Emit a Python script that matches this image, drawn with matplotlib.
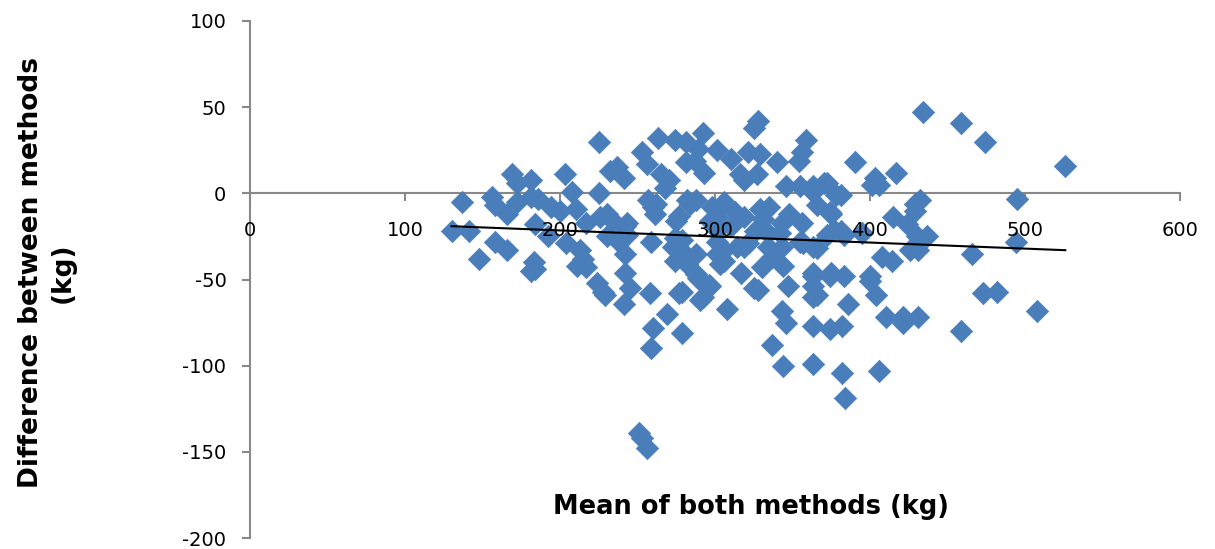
import numpy as np
import matplotlib.pyplot as plt

plt.rcParams['axes.unicode_minus'] = False

# mean of both methods (kg), difference between methods (kg)
mean_kg = [130, 137, 141, 148, 156, 158, 158, 166, 166, 169, 172, 172, 181, 181, 186, 184, 183, 184, 181,
           192, 194, 200, 203, 208, 210, 204, 213, 215, 211, 217, 217, 225, 226, 230, 234, 243, 230, 237,
           242, 242, 224, 228, 229, 245, 241, 260,
           225, 232, 237, 241, 253, 256, 263, 274, 281, 292, 289, 301, 310, 281, 287, 293, 265, 270, 268,
           325, 328, 321, 316, 319, 327, 329, 340, 354, 356, 359, 390, 417, 403, 406, 401, 434, 459, 474, 526,
           257, 260, 261, 282, 288, 277, 275, 298, 306, 313, 297, 301, 279, 273, 259, 243, 242, 314, 321, 326,
           274, 282, 288, 301, 306, 288, 317,
           258, 277, 290, 297, 290, 308, 269, 279, 259, 251, 253, 256, 325,
           346, 355, 363, 370, 378, 366, 374, 377, 383, 348, 356, 343, 335, 329, 331, 319, 310, 301, 284, 262,
           274, 281, 301, 306, 303, 319, 334, 343, 355, 366, 337, 344, 330, 289, 296, 292, 279, 328, 347,
           363, 363, 363, 374, 383, 386, 343, 346, 363, 374, 382, 337,
           372, 381, 363, 415, 424, 429, 430, 408, 414, 372, 381, 375, 334, 342, 357, 363, 363, 375, 400,
           432, 429, 437, 426, 431, 400, 404, 410, 421, 421, 431, 466, 473, 482, 459, 508, 495, 494, 395,
           366, 344, 363, 382, 406, 384]
diff_kg = [-22, -5, -22, -38, -2, -7, -28, -12, -33, 11, 6, -5, 8, -2, -3, -18, -40, -44, -45,
           -25, -8, -10, 11, 1, -9, -29, -33, -38, -42, -43, -17, 0, -14, -12, -16, -17, -25, -27,
           -35, -46, -52, -57, -59, -55, -64, -78,
           30, 13, 15, 9, 24, 17, 32, 31, 30, 35, 26, 25, 20, 18, 19, 12, 11, 8, 3,
           38, 42, 24, 11, 8, 11, 23, 18, 19, 24, 31, 18, 12, 9, 5, 5, 47, 41, 30, 16,
           -4, -8, -12, -4, -4, -13, -16, -8, -5, -11, -16, -21, -27, -31, -28, -24, -19, -31, -29, -22,
           -39, -41, -35, -35, -39, -47, -46,
           -58, -58, -50, -54, -62, -67, -70, -81, -90, -139, -142, -148, -55,
           4, 4, 4, 6, -1, -7, -11, -21, -24, -12, -17, -17, -8, -9, -15, -14, -19, -14, -6, -6,
           -26, -36, -28, -33, -41, -31, -31, -31, -28, -32, -37, -42, -43, -49, -53, -60, -57, -56, -54,
           -48, -54, -60, -48, -48, -64, -68, -75, -77, -79, -77, -88,
           6, -1, 1, -14, -18, -6, -25, -37, -39, -24, -22, -12, -23, -23, -29, -31, -46, -46, -48,
           -4, -10, -25, -33, -33, -51, -59, -72, -72, -75, -72, -35, -58, -57, -80, -68, -3, -28, -23,
           -59, -100, -99, -104, -103, -119]

x_ticks = [0, 100, 200, 300, 400, 500, 600]
y_ticks = [-200, -150, -100, -50, 0, 50, 100]

x = np.array(mean_kg, dtype=float)
y = np.array(diff_kg, dtype=float)

fig = plt.figure(figsize=(12.15, 5.49), dpi=100)
rect = [250 / 1215, 11 / 549, 930 / 1215, 517 / 549]
ax = fig.add_axes(rect)

ax.scatter(x, y, marker='D', s=130, color='#4A7EBB', edgecolors='#4A7EBB', linewidths=0.5, zorder=3)

# linear trend line
k, b = np.polyfit(x, y, 1)
xl = np.array([x.min(), x.max()])
ax.plot(xl, k * xl + b, color='black', linewidth=1.5, zorder=4)

ax.set_xlim(0, 600)
ax.set_ylim(-200, 100)
ax.set_xticks(x_ticks)
ax.set_yticks(y_ticks)

ax.spines['top'].set_visible(False)
ax.spines['right'].set_visible(False)
ax.spines['bottom'].set_position(('data', 0))
ax.spines['left'].set_position(('data', 0))
for s in ('bottom', 'left'):
    ax.spines[s].set_color('#898989')
    ax.spines[s].set_linewidth(1.5)

ax.tick_params(axis='both', colors='#898989', labelcolor='black', width=1.5, length=6, labelsize=14)
ax.tick_params(axis='x', direction='out', labelbottom=False)
ax.tick_params(axis='y', direction='out', pad=11)

ax.set_xlabel('Mean of both methods (kg)', fontsize=18.5, fontweight='bold', va='center')
ax.xaxis.set_label_coords((751 - 250) / 930, (538 - 507) / 517)
ax.set_ylabel('Difference between methods\n(kg)', fontsize=19, fontweight='bold', va='center',
              linespacing=1.25)
ax.yaxis.set_label_coords((47 - 250) / 930, (538 - 273) / 517)

# overlay axes so the x tick labels are drawn over the markers
axt = fig.add_axes(rect, label='labels', zorder=ax.get_zorder() + 1)
axt.patch.set_visible(False)
axt.set_xlim(0, 600)
axt.set_ylim(-200, 100)
axt.set_xticks(x_ticks)
axt.set_yticks([])
for s in axt.spines.values():
    s.set_visible(False)
axt.spines['bottom'].set_position(('data', 0))
axt.tick_params(axis='x', direction='out', color='none', width=1.5, length=6, pad=14, labelsize=14,
                labelcolor='black')
axt.tick_params(axis='y', left=False, labelleft=False)

fig.savefig('out.png', dpi=100)
